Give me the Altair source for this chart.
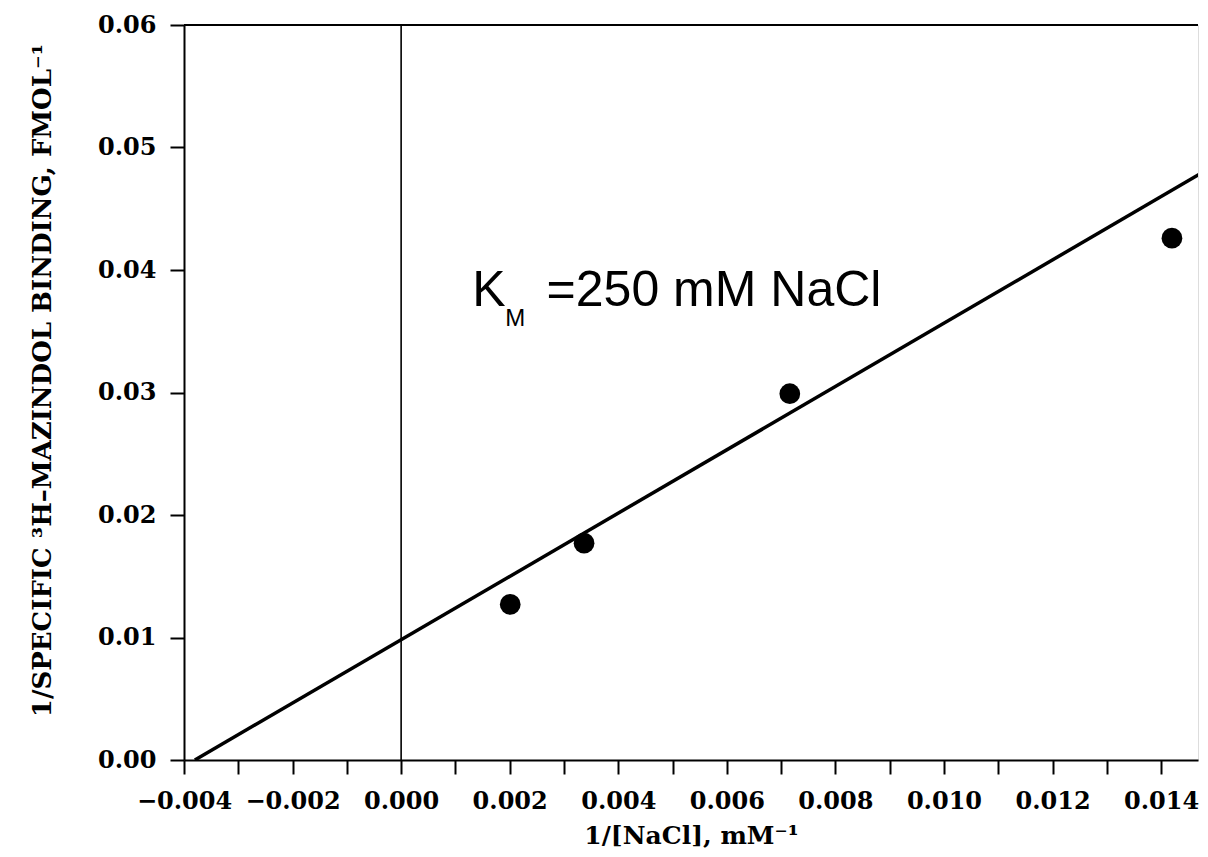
import altair as alt
import pandas as pd

# Measured data points (1/[NaCl], 1/specific binding)
pt_x = [0.00201, 0.00337, 0.00716, 0.01420]
pt_y = [0.0127, 0.0177, 0.0299, 0.0426]

# Fitted line end points
fit_x = [-0.0038, 0.0147]
fit_y = [0.0, 0.0478]

x_min, x_max = -0.004, 0.01468
y_min, y_max = 0.0, 0.06

x_ticks = [round(-0.004 + 0.001 * i, 3) for i in range(19)]
y_ticks = [0.0, 0.01, 0.02, 0.03, 0.04, 0.05, 0.06]

points = pd.DataFrame({"x": pt_x, "y": pt_y})
fit = pd.DataFrame({"x": fit_x, "y": fit_y})

serif = "DejaVu Serif"
sans = "Liberation Sans"

xscale = alt.Scale(domain=[x_min, x_max], nice=False, zero=False)
yscale = alt.Scale(domain=[y_min, y_max], nice=False, zero=False)

xaxis = alt.Axis(
    values=x_ticks,
    labelExpr="abs(round(datum.value*1000)) % 2 == 0 ? format(datum.value, '.3f') : ''",
    title="1/[NaCl], mM⁻¹",
    grid=False,
    tickSize=14, tickWidth=2, tickColor="black",
    domainWidth=2, domainColor="black",
    labelFont=serif, labelFontSize=24, labelFontWeight="bold", labelColor="black",
    labelPadding=15, labelFlush=False, labelOverlap=False,
    titleFont=serif, titleFontSize=25, titleFontWeight="bold", titleColor="black",
    titleY=83, titleBaseline="alphabetic",
)
yaxis = alt.Axis(
    values=y_ticks,
    format=".2f",
    title="1/SPECIFIC ³H–MAZINDOL BINDING, FMOL⁻¹",
    grid=False,
    tickSize=14, tickWidth=2, tickColor="black",
    domainWidth=2, domainColor="black",
    labelFont=serif, labelFontSize=24, labelFontWeight="bold", labelColor="black",
    labelPadding=14, labelFlush=False, labelOverlap=False,
    titleFont=serif, titleFontSize=26, titleFontWeight="bold", titleColor="black",
    titleX=-142, titleY=355, titleAngle=270, titleBaseline="middle", titleAlign="center",
)

base_pts = alt.Chart(points).mark_circle(size=430, color="black", opacity=1).encode(
    x=alt.X("x:Q", scale=xscale, axis=xaxis),
    y=alt.Y("y:Q", scale=yscale, axis=yaxis),
)

line = alt.Chart(fit).mark_line(color="black", strokeWidth=3.5, clip=True).encode(
    x=alt.X("x:Q", scale=xscale),
    y=alt.Y("y:Q", scale=yscale),
)

vline = alt.Chart(pd.DataFrame({"x": [0.0], "y": [y_min], "y2": [y_max]})).mark_rule(
    color="black", strokeWidth=1.6
).encode(x="x:Q", y="y:Q", y2="y2:Q")

topline = alt.Chart(pd.DataFrame({"x": [x_min], "x2": [x_max], "y": [y_max]})).mark_rule(
    color="black", strokeWidth=2
).encode(x="x:Q", x2="x2:Q", y="y:Q")

ann = pd.DataFrame({
    "t": ["K", "M", "=250 mM NaCl"],
    "x": [0.00131, 0.00192, 0.00268],
    "y": [0.0371, 0.03543, 0.0371],
    "s": ["big", "small", "big"],
})
ann_big = alt.Chart(ann[ann.s == "big"]).mark_text(
    font=sans, fontSize=50, align="left", baseline="alphabetic", color="black"
).encode(x="x:Q", y="y:Q", text="t:N")
ann_small = alt.Chart(ann[ann.s == "small"]).mark_text(
    font=sans, fontSize=24, align="left", baseline="alphabetic", color="black"
).encode(x="x:Q", y="y:Q", text="t:N")

chart = alt.layer(vline, topline, line, base_pts, ann_big, ann_small).properties(
    width=1014, height=735,
    autosize=alt.AutoSizeParams(type="none"),
    padding={"left": 176, "top": 17, "right": 2, "bottom": 88},
).configure_view(stroke=None).configure(background="white")

chart.save("out.html", embed_options={"renderer": "svg", "actions": False})
